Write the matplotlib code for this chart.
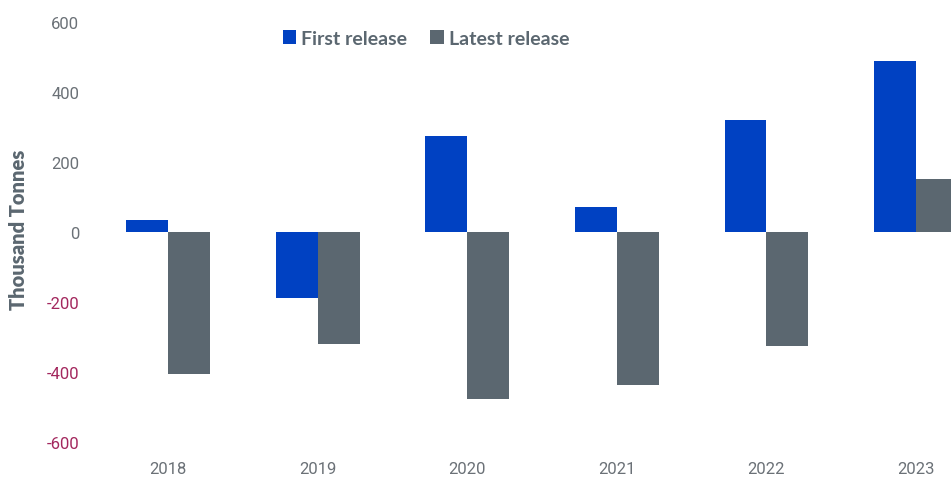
import matplotlib.pyplot as plt
import numpy as np

years = ["2018", "2019", "2020", "2021", "2022", "2023"]
first_release = [35, -189, 274, 72, 320, 489]
latest_release = [-406, -320, -477, -437, -326, 151]
y_ticks = [-600, -400, -200, 0, 200, 400, 600]

blue = "#0041c2"
grey = "#5b6770"
text_grey = "#6b7177"
neg_red = "#a3285e"

fig = plt.figure(figsize=(9.51, 4.81), dpi=100)
ax = fig.add_axes([100 / 951, 31 / 481, 851 / 951, 440 / 481])

x = np.arange(len(years))
w = 0.28
ax.bar(x - w / 2, first_release, w, color=blue, label="First release")
ax.bar(x + w / 2, latest_release, w, color=grey, label="Latest release")

ax.set_xlim(-0.455, 5.234)
ax.set_ylim(-620, 637)
ax.set_yticks(y_ticks)
ax.set_yticklabels([str(v) for v in y_ticks])
ax.set_xticks(x)
ax.set_xticklabels(years)

for s in ax.spines.values():
    s.set_visible(False)
ax.tick_params(axis="both", length=0)
ax.tick_params(axis="y", pad=15)
ax.tick_params(axis="x", pad=9)
for lab, v in zip(ax.get_yticklabels(), y_ticks):
    lab.set_color(neg_red if v < 0 else text_grey)
    lab.set_fontsize(12)
    lab.set_family(["Roboto", "DejaVu Sans"])
for lab in ax.get_xticklabels():
    lab.set_color(text_grey)
    lab.set_fontsize(12)
    lab.set_family(["Roboto", "DejaVu Sans"])

ax.set_ylabel("Thousand Tonnes", fontsize=14.5, fontweight="heavy", color=grey,
              family=["Lato", "DejaVu Sans"])
ax.yaxis.set_label_coords(-72 / 851, 0.5)

leg = ax.legend(loc="upper left", bbox_to_anchor=(165 / 851, 0.992), ncol=2,
                frameon=False, handlelength=0.7, handleheight=0.7,
                handletextpad=0.25, columnspacing=1.2,
                prop={"family": ["Lato", "DejaVu Sans"], "weight": "bold", "size": 14})
for t in leg.get_texts():
    t.set_color(grey)

fig.savefig("out.png", dpi=100)
